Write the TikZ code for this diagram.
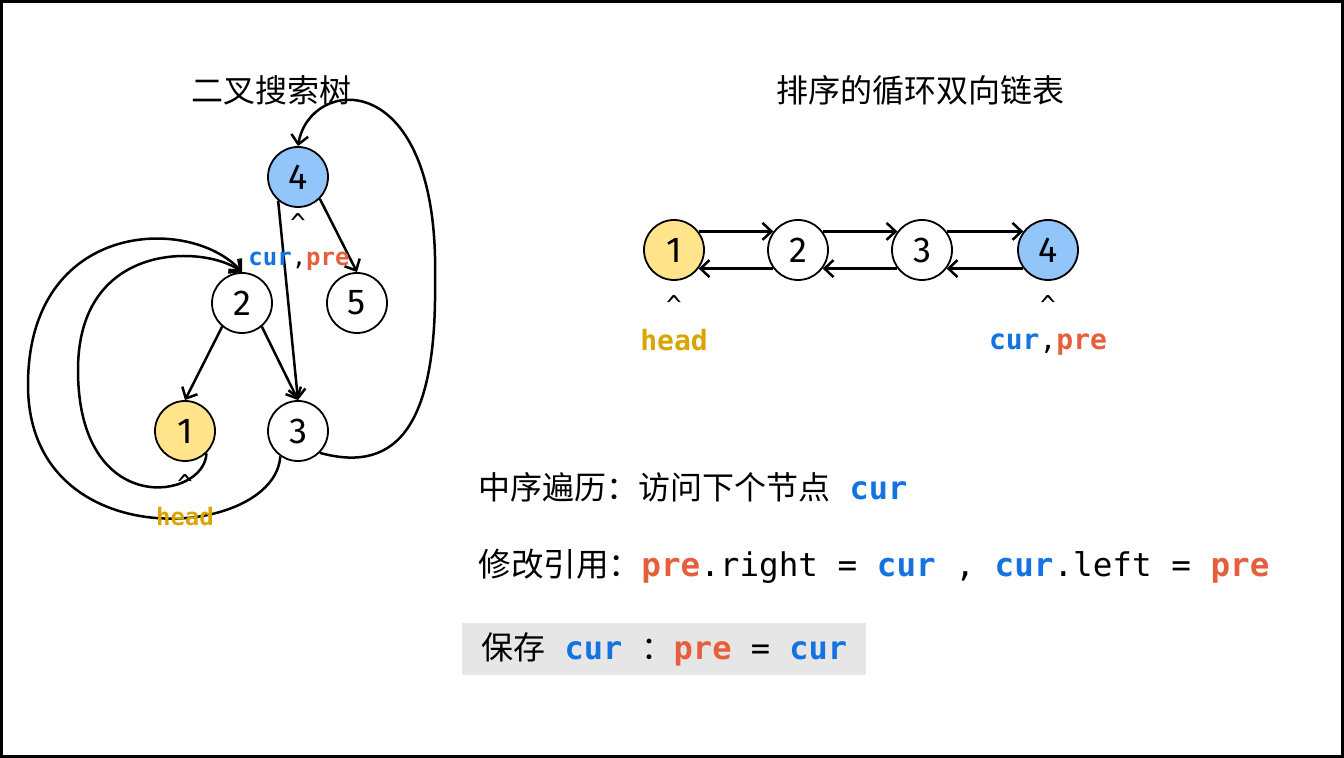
\documentclass[tikz,border=0pt]{standalone}
\usepackage{fontspec}
\setmainfont{Noto Sans CJK SC}
\setmonofont{DejaVu Sans Mono}
\newfontfamily\digitfont{Fira Sans}
\usetikzlibrary{arrows.meta,positioning}
\definecolor{curblue}{RGB}{20,115,225}
\definecolor{preorange}{RGB}{230,95,60}
\definecolor{headgold}{RGB}{218,165,0}
\definecolor{headfill}{RGB}{255,228,140}
\definecolor{rootfill}{RGB}{146,197,250}
\definecolor{panelgray}{RGB}{230,230,230}
\newcommand{\curtxt}{\textcolor{curblue}{\ttfamily\bfseries cur}}
\newcommand{\pretxt}{\textcolor{preorange}{\ttfamily\bfseries pre}}
\newcommand{\headtxt}{\textcolor{headgold}{\ttfamily\bfseries head}}
\newcommand{\bigfont}{\fontsize{16pt}{19pt}\selectfont}

\begin{document}
\begin{tikzpicture}[x=0.5pt, y=-0.5pt,
      tnode/.style={circle, draw, line width=0.9pt, minimum size=30pt, inner sep=0pt,
                    font=\digitfont\fontsize{18pt}{20pt}\selectfont},
      headnode/.style={tnode, fill=headfill},
      rootnode/.style={tnode, fill=rootfill},
      plainnode/.style={tnode, fill=white},
      edge/.style={-{Straight Barb[length=4.5pt,width=8.5pt]}, line width=1.25pt},
      caret/.style={inner sep=0pt, font=\ttfamily\fontsize{13pt}{14pt}\selectfont},
      small/.style={inner sep=0pt, font=\fontsize{12pt}{14pt}\selectfont},
      mid/.style={inner sep=0pt, font=\fontsize{14pt}{16pt}\selectfont},
      line/.style={inner sep=0pt, anchor=west, font=\bigfont}]
    \useasboundingbox (0,0) rectangle (1344,758);
    \draw[line width=1.5pt] (1.5,1.5) rectangle (1342.5,756.5);

    % titles
    \node[line, anchor=center] (title-tree) at (271,90) {二叉搜索树};
    \node[line, anchor=center] (title-list) at (920,90) {排序的循环双向链表};

    % binary search tree
    \node[rootnode]  (T4) at (298,177) {4};
    \node[plainnode] (T2) at (242,303) {2};
    \node[plainnode] (T5) at (357,303) {5};
    \node[headnode]  (T1) at (185,431) {1};
    \node[plainnode] (T3) at (298,431) {3};
    \draw[edge] (T4.-45)  -- (T5.north);
    \draw[edge] (T4.-130) -- (T3.north);
    \draw[edge] (T2.-130) -- (T1.north);
    \draw[edge] (T2.-50)  -- (T3.north);
    \draw[edge] (T3.-45) .. controls (400,475) and (437,420) .. (435,280)
                         .. controls (440,65) and (310,75) .. (T4.north);
    \draw[edge] (T1.-46) .. controls (205,500) and (78,520) .. (78,370)
                         .. controls (78,240) and (205,245) .. (T2.north);
    \draw[edge] (T3.-125) .. controls (275,540) and (28,560) .. (28,385)
                          .. controls (28,220) and (190,215) .. (T2.north);
    \node[caret] (T4-caret) at (298,223) {\textasciicircum};
    \node[small] (T4-ptr) at (299,261) {\curtxt\texttt{,}\pretxt};
    \node[caret] (T1-caret) at (185,484) {\textasciicircum};
    \node[small] (T1-ptr) at (185,517) {\headtxt};

    % sorted circular doubly linked list
    \foreach \i/\cx/\kind in {1/674/headnode, 2/798/plainnode, 3/922/plainnode, 4/1048/rootnode}
      \node[\kind] (L\i) at (\cx,250) {\i};
    \foreach \a/\b in {1/2, 2/3, 3/4} {
      \draw[edge] (L\a.37) -- (L\b.143);
      \draw[edge] (L\b.-143) -- (L\a.-37);
    }
    \node[caret] (L1-caret) at (674,305) {\textasciicircum};
    \node[mid]   (L1-ptr) at (674,340) {\headtxt};
    \node[caret] (L4-caret) at (1048,305) {\textasciicircum};
    \node[mid]   (L4-ptr) at (1048,345) {\curtxt\texttt{,}\pretxt};

    % steps
    \node[line] (step-visit) at (478,487) {中序遍历：访问下个节点\texttt{ }\curtxt};
    \node[line, font=\fontsize{16.3pt}{19pt}\selectfont] (step-link) at (478,566)
      {修改引用：\pretxt\texttt{.right = }\curtxt\texttt{ , }\curtxt\texttt{.left = }\pretxt};
    \node[line, fill=panelgray, inner xsep=9.5pt, minimum height=26pt]
      (step-save) at (462,649) {保存\texttt{ }\curtxt\texttt{ }：\pretxt\texttt{ = }\curtxt};
  \end{tikzpicture}
\end{document}
